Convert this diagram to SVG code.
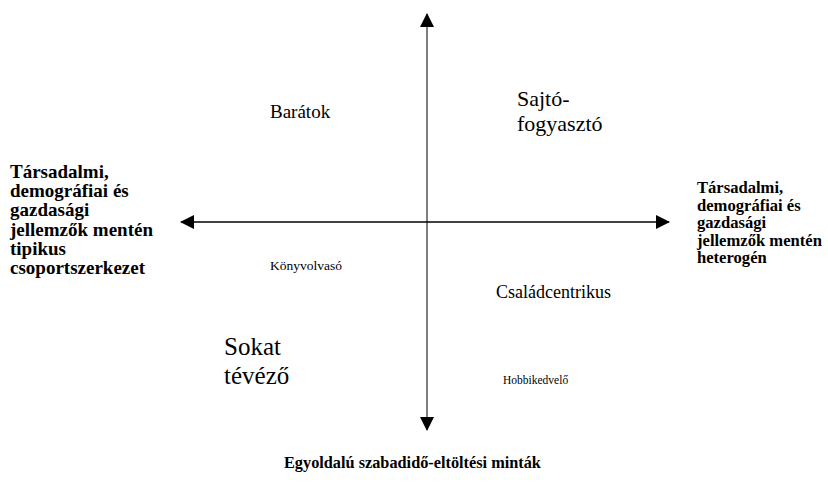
<svg xmlns="http://www.w3.org/2000/svg" width="828" height="482" viewBox="0 0 828 482">
  <style>
    .t { font-family: "Liberation Serif", "Times New Roman", serif; fill: #000; }
    .axis-label { font-weight: bold; }
  </style>
  <defs>
    <marker id="arrow" viewBox="0 0 14 14" refX="13" refY="7" markerWidth="14" markerHeight="14" markerUnits="userSpaceOnUse" orient="auto">
      <path d="M0,0 L14,7 L0,14 Z" fill="#000"/>
    </marker>
  </defs>
  <rect width="828" height="482" fill="#fff"/>

  <!-- axes -->
  <g id="connectors">
    <line x1="427" y1="222" x2="427" y2="14" stroke="#555" stroke-width="1.5" marker-end="url(#arrow)"/>
    <line x1="427" y1="222" x2="427" y2="430" stroke="#555" stroke-width="1.5" marker-end="url(#arrow)"/>
    <line x1="427" y1="222" x2="181" y2="222" stroke="#000" stroke-width="1.5" marker-end="url(#arrow)"/>
    <line x1="427" y1="222" x2="669" y2="222" stroke="#000" stroke-width="1.5" marker-end="url(#arrow)"/>
  </g>

  <!-- axis labels -->
  <g id="left-label">
    <text class="t axis-label" font-size="19">
      <tspan x="10" y="178">Társadalmi,</tspan>
      <tspan x="10" y="197">demográfiai és</tspan>
      <tspan x="10" y="216">gazdasági</tspan>
      <tspan x="10" y="236">jellemzők mentén</tspan>
      <tspan x="10" y="255">tipikus</tspan>
      <tspan x="10" y="274">csoportszerkezet</tspan>
    </text>
  </g>
  <g id="right-label">
    <text class="t axis-label" font-size="16.6">
      <tspan x="697" y="193">Társadalmi,</tspan>
      <tspan x="697" y="210.5">demográfiai és</tspan>
      <tspan x="697" y="228">gazdasági</tspan>
      <tspan x="697" y="245.5">jellemzők mentén</tspan>
      <tspan x="697" y="263">heterogén</tspan>
    </text>
  </g>
  <g id="bottom-label">
    <text class="t axis-label" font-size="16.3" x="284" y="468">Egyoldalú szabadidő-eltöltési minták</text>
  </g>

  <!-- segments -->
  <g id="baratok"><text class="t" x="270" y="118" font-size="19">Barátok</text></g>
  <g id="sajto">
    <text class="t" font-size="22">
      <tspan x="517" y="106">Sajtó-</tspan>
      <tspan x="517" y="131">fogyasztó</tspan>
    </text>
  </g>
  <g id="konyvolvaso"><text class="t" x="270" y="270" font-size="13.5">Könyvolvasó</text></g>
  <g id="csaladcentrikus"><text class="t" x="496" y="298" font-size="18">Családcentrikus</text></g>
  <g id="sokat">
    <text class="t" font-size="25">
      <tspan x="224" y="355">Sokat</tspan>
      <tspan x="224" y="384">tévéző</tspan>
    </text>
  </g>
  <g id="hobbikedvelo"><text class="t" x="503" y="384" font-size="11.5">Hobbikedvelő</text></g>
</svg>
